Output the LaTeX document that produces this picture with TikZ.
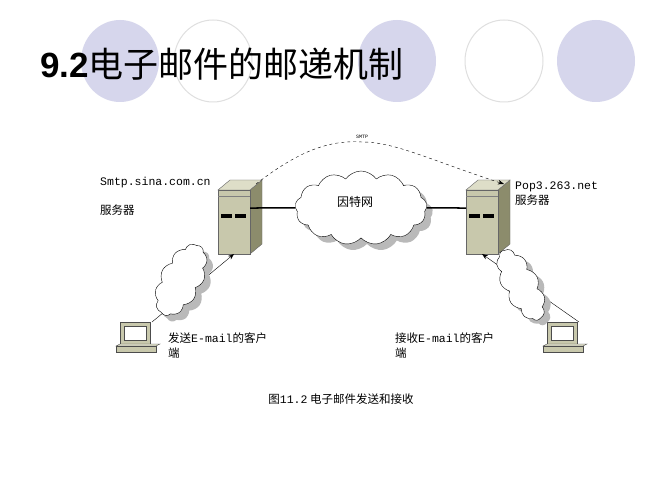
\documentclass[tikz,border=0pt]{standalone}
\usepackage{fontspec}
\setmainfont{Liberation Sans}
\newfontfamily\cjk{Noto Sans CJK SC}
\newfontfamily\monofnt{Liberation Mono}
\usetikzlibrary{arrows.meta,positioning,calc,shapes.symbols}

\definecolor{srvfront}{RGB}{200,200,172}
\definecolor{srvside}{RGB}{140,140,108}
\definecolor{srvtop}{RGB}{222,222,200}
\definecolor{decoblue}{RGB}{214,214,236}
\tikzset{
  deco/.style={draw=gray!25, line width=1pt},
  decofill/.style={fill=decoblue, draw=none},
  netcloud/.style={cloud, cloud puffs=13, cloud puff arc=110, aspect=1.9, draw, fill=white},
  cloudshade/.style={cloud, cloud puffs=13, cloud puff arc=110, aspect=1.9, fill=gray!55, draw=none},
  label/.style={font=\cjk\fontsize{11.5}{15}\selectfont, align=left, anchor=north west, inner sep=0pt},
  link/.style={-{Stealth[length=6pt]}, thin},
}
\newcommand{\serverbox}[2]{% #1 name, #2 front top-left
  \begin{scope}[shift={#2}]
    \fill[fill=srvside, draw=black!60] (32,0) -- (44,-10) -- (44,54) -- (32,64) -- cycle;
    \fill[fill=srvtop, draw=black!60] (0,0) -- (12,-10) -- (44,-10) -- (32,0) -- cycle;
    \draw[fill=srvfront, draw=black!60] (0,0) rectangle (32,64);
    \draw[black!50] (0,6) -- (32,6);
    \fill (3,24) rectangle (14,28);
    \fill (17,24) rectangle (28,28);
    \coordinate (#1) at (16,32);
    \coordinate (#1-r) at (32,18);
    \coordinate (#1-l) at (0,18);
    \coordinate (#1-t) at (38,-6);
    \coordinate (#1-b) at (16,64);
  \end{scope}}
\newcommand{\pcbox}[2]{%
  \begin{scope}[shift={#2}]
    \draw[fill=srvfront, draw=black!70] (4,0) rectangle (34,22);
    \draw[fill=white, draw=black!70] (8,4) rectangle (30,18);
    \draw[fill=srvtop, draw=black!70] (0,24) -- (4,22) -- (44,22) -- (40,24) -- cycle;
    \draw[fill=srvfront, draw=black!70] (0,24) rectangle (40,30);
    \coordinate (#1) at (36,0);
  \end{scope}}

\begin{document}
\begin{tikzpicture}[x=1pt, y=-1pt]
\useasboundingbox (0,0) rectangle (667,500);
\fill[white] (0,0) rectangle (667,500);

% title circles
\fill[decofill] (120,61) ellipse (39 and 41);
\draw[deco] (213,61) ellipse (39 and 41);
\fill[decofill] (397,61) ellipse (39 and 41);
\draw[deco] (504,61) ellipse (39 and 41);
\fill[decofill] (596,61) ellipse (39 and 41);
\node[anchor=base west, inner sep=0pt] (title) at (40,78)
  {\fontsize{35}{38}\selectfont\bfseries 9.2\cjk\mdseries 电子邮件的邮递机制};

% servers and clients
\serverbox{srvL}{(218,190)}
\serverbox{srvR}{(466,190)}
\pcbox{pcL}{(116,322)}
\pcbox{pcR}{(543,322)}
\draw[link] (pcL) -- (srvL-b);
\draw[link] (pcR) -- (srvR-b);

\node[cloudshade, minimum width=132pt, minimum height=74pt] (inetsh) at (367,214) {};
\node[netcloud, minimum width=132pt, minimum height=74pt] (inet) at (361,208) {};
\node[font=\cjk\fontsize{12}{14}\selectfont] (inettxt) at (355,202) {因特网};
\draw[line width=1.5pt] (srvL-r) -- (inet.west);
\draw[line width=1.5pt] (inet.east) -- (srvR-l);

\node[cloudshade, cloud puffs=11, aspect=1.6, rotate=62, minimum width=78pt, minimum height=42pt] (cloudLsh) at (187,286) {};
\node[netcloud, cloud puffs=11, aspect=1.6, rotate=62, minimum width=78pt, minimum height=42pt] (cloudL) at (181,280) {};
\node[cloudshade, cloud puffs=11, aspect=1.6, rotate=-62, minimum width=78pt, minimum height=36pt] (cloudRsh) at (527,290) {};
\node[netcloud, cloud puffs=11, aspect=1.6, rotate=-62, minimum width=78pt, minimum height=36pt] (cloudR) at (521,285) {};

% SMTP
\coordinate (smtptop) at (362,142);
\node[font=\monofnt\fontsize{5}{6}\selectfont] (smtp) at (362,137) {SMTP};
\draw[dashed, -{Stealth[length=6pt]}] (srvL-t) .. controls (300,150) and (330,140) .. (smtptop)
  .. controls (395,142) and (430,160) .. (srvR-t);

% labels
\node[label] (lblL) at (100,177) {\monofnt Smtp.sina.com.cn};
\node[label] (lblL2) at (100,205) {服务器};
\node[label] (lblR) at (515,182) {{\monofnt Pop3.263.net}\\服务器};
\node[label] (lblC1) at (168,333) {发送{\monofnt E-mail}的客户\\端};
\node[label] (lblC2) at (395,333) {接收{\monofnt E-mail}的客户\\端};
\node[font=\cjk\fontsize{11.5}{14}\selectfont] (cap) at (341,399) {图{\monofnt 11.2} 电子邮件发送和接收};
\end{tikzpicture}
\end{document}
